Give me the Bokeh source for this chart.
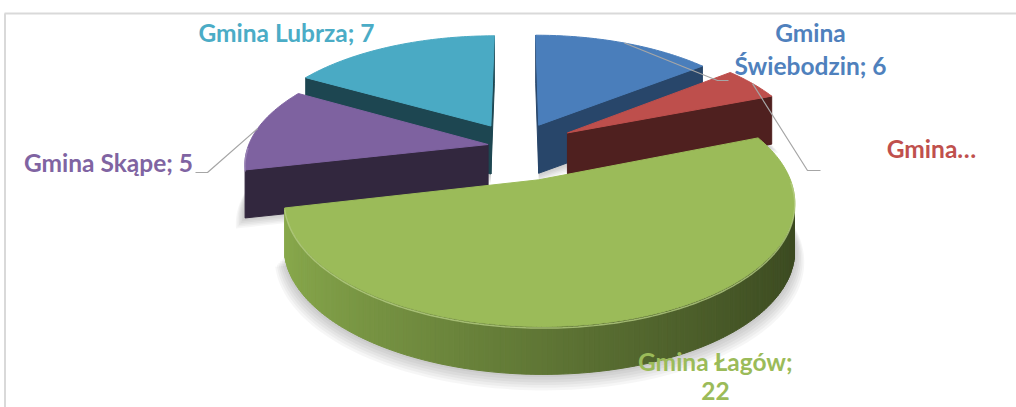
import numpy as np
from bokeh.plotting import figure
from bokeh.models import Range1d
from bokeh.core.properties import value
from bokeh.embed import file_html
from bokeh.resources import INLINE

# ---------------- data ----------------
categories = ["Gmina Świebodzin", "Gmina…", "Gmina Łagów", "Gmina Skąpe", "Gmina Lubrza"]
values = [6, 2, 22, 5, 7]

# ---------------- style ----------------
top_colors = ["#4a7ebb", "#be4f4c", "#9bbb59", "#7e62a0", "#4aaac4"]
face_colors = ["#28466a", "#4f201f", "#4d6129", "#32273e", "#1d4651"]
wall_light = ["#2d4e75", "#5a2624", "#8aab4d", "#3b2f4b", "#215160"]
wall_dark = ["#223c5b", "#461c1b", "#3a4820", "#2d2338", "#1a3e48"]
label_colors = ["#4f81bd", "#c0504d", "#9bbb59", "#8064a2", "#4bacc6"]
explode = [0.22, 0.25, 0.30, 0.12, 0.22]

W, H = 1016, 407

# projection (page pixel space)
CX, CY = 516.0, 146.0
S = 240.0
ALPHA = np.radians(27.5)
D = 5.5
F = S * D
T = 0.17          # slab thickness in model units (for visibility tests)
THICK_PX = 48.0   # slab thickness on screen
CAM = np.array([0.0, D * np.sin(ALPHA), -D * np.cos(ALPHA)])


def proj(X, Y, Z):
    X = np.asarray(X, float); Y = np.asarray(Y, float); Z = np.asarray(Z, float)
    zc = D + Z * np.cos(ALPHA)
    yc = Z * np.sin(ALPHA)
    return CX + F * X / zc, CY - F * yc / zc - Y / T * THICK_PX


def hx(c):
    c = c.lstrip("#")
    return np.array([int(c[i:i + 2], 16) for i in (0, 2, 4)], float)


def mix(c1, c2, t):
    a, b = hx(c1), hx(c2)
    m = a + (b - a) * t
    return "#%02x%02x%02x" % tuple(int(round(v)) for v in m)


def visible(P, n):
    return float(np.dot(CAM - P, n)) > 0


p = figure(width=W, height=H, x_range=Range1d(0, W), y_range=Range1d(H, 0),
           output_backend="svg", toolbar_location=None, min_border=0,
           x_axis_location=None, y_axis_location=None,
           background_fill_color="white", border_fill_color="white")
p.grid.visible = False
p.outline_line_color = None

# chart border (top and left, as in the cropped reference)
p.line([4, W], [13, 13], line_color="#d9d9d9", line_width=2)
p.line([4.5, 4.5], [13, H], line_color="#d9d9d9", line_width=2)

total = float(sum(values))
cum = np.concatenate([[0.0], np.cumsum(values)]) / total * 360.0
slices = []
for i in range(len(values)):
    s, e = cum[i], cum[i + 1]
    mid = np.radians((s + e) / 2)
    ox, oz = explode[i] * np.sin(mid), explode[i] * np.cos(mid)
    slices.append(dict(i=i, s=s, e=e, mid=mid, ox=ox, oz=oz,
                       depth=oz + 0.5 * np.cos(mid)))

# soft shadows on the floor
for sl in slices:
    th = np.radians(np.linspace(sl["s"], sl["e"], 120))
    for k in range(1, 7):
        r = 1.0 + 0.006 * k
        X = np.concatenate([[sl["ox"]], sl["ox"] + r * np.sin(th)])
        Z = np.concatenate([[sl["oz"]], sl["oz"] + r * np.cos(th)])
        sx, sy = proj(X, np.full_like(X, -T), Z)
        p.patch(list(sx), list(sy + 1.6 * k), fill_color="#000000", fill_alpha=0.035, line_color=None)

for sl in sorted(slices, key=lambda d: -d["depth"]):
    i = sl["i"]; ox, oz = sl["ox"], sl["oz"]
    n = max(int(sl["e"] - sl["s"]) + 2, 4)
    th = np.radians(np.linspace(sl["s"], sl["e"], n))
    xs, ys, cols = [], [], []
    # radial faces
    for ang, sign in ((np.radians(sl["s"]), -1), (np.radians(sl["e"]), 1)):
        dvec = np.array([np.sin(ang), 0, np.cos(ang)])
        nrm = sign * np.array([np.cos(ang), 0, -np.sin(ang)])
        P = np.array([ox, -T / 2, oz]) + 0.5 * dvec
        if visible(P, nrm):
            X = [ox, ox + dvec[0], ox + dvec[0], ox]
            Z = [oz, oz + dvec[2], oz + dvec[2], oz]
            Y = [0, 0, -T, -T]
            sx, sy = proj(X, Y, Z)
            xs.append(list(sx)); ys.append(list(sy)); cols.append(face_colors[i])
    # outer wall
    for j in range(n - 1):
        m = 0.5 * (th[j] + th[j + 1])
        P = np.array([ox + np.sin(m), -T / 2, oz + np.cos(m)])
        nrm = np.array([np.sin(m), 0, np.cos(m)])
        if visible(P, nrm):
            X = [ox + np.sin(th[j]), ox + np.sin(th[j + 1]), ox + np.sin(th[j + 1]), ox + np.sin(th[j])]
            Z = [oz + np.cos(th[j]), oz + np.cos(th[j + 1]), oz + np.cos(th[j + 1]), oz + np.cos(th[j])]
            Y = [0, 0, -T, -T]
            sx, sy = proj(X, Y, Z)
            t = (np.sin(m) + 1) / 2
            xs.append(list(sx)); ys.append(list(sy)); cols.append(mix(wall_light[i], wall_dark[i], t ** 0.9))
    if xs:
        p.patches(xs, ys, fill_color=cols, line_color=cols, line_width=1)
    # top face
    X = np.concatenate([[ox], ox + np.sin(th)])
    Z = np.concatenate([[oz], oz + np.cos(th)])
    sx, sy = proj(X, np.zeros_like(X), Z)
    p.patch(list(sx), list(sy), fill_color=top_colors[i], line_color=top_colors[i], line_width=1)
    # bevel highlight on front rim
    front = np.cos(th) < 0
    if front.sum() > 2:
        thf = th[front]
        hx_, hy_ = proj(ox + np.sin(thf), np.full(thf.shape, -0.006), oz + np.cos(thf))
        p.line(list(hx_), list(hy_), line_color=mix(top_colors[i], "#ffffff", 0.25), line_width=1.5, line_alpha=0.8)

# ---------------- labels ----------------
cat0 = categories[0].split(" ", 1)
label_lines = [
    [cat0[0], f"{cat0[1]}; {values[0]}"],
    [categories[1]],
    [f"{categories[2]};", f"{values[2]}"],
    [f"{categories[3]}; {values[3]}"],
    [f"{categories[4]}; {values[4]}"],
]
label_x = [810, 931, 715, 108, 286]
label_y = [[32, 65], [148], [361, 390], [162], [32]]
leader_knee = [(717, 80), (807, 170), None, (207, 172), None]
leader_end = [(728, 80), (820, 170), None, (195, 172), None]

for sl in slices:
    i = sl["i"]
    if leader_knee[i] is None:
        continue
    sx, sy = proj([sl["ox"] + np.sin(sl["mid"])], [0.0], [sl["oz"] + np.cos(sl["mid"])])
    p.line([float(sx[0]), leader_knee[i][0], leader_end[i][0]],
           [float(sy[0]), leader_knee[i][1], leader_end[i][1]],
           line_color="#a6a6a6", line_width=1.2)

tx, ty, tt, tc = [], [], [], []
for i, lines in enumerate(label_lines):
    for ln, yy in zip(lines, label_y[i]):
        tx.append(label_x[i]); ty.append(yy); tt.append(ln); tc.append(label_colors[i])
p.text(x=tx, y=ty, text=tt, text_color=tc, text_font=value("Lato"), text_font_style="bold",
       text_font_size="24.5px", text_align="center", text_baseline="alphabetic")

open("out.html", "w").write(file_html(p, INLINE))
